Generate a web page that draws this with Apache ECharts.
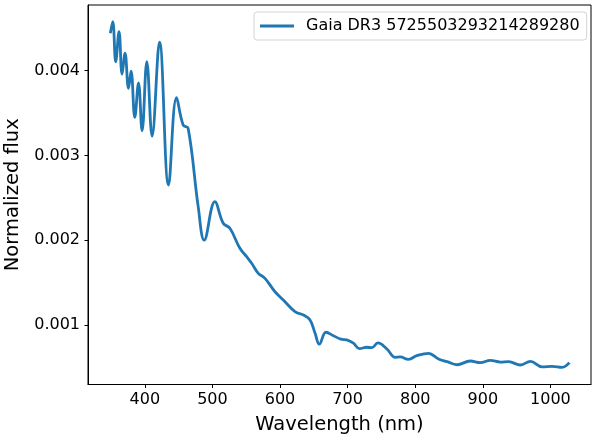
<!DOCTYPE html>
<html>
<head>
<meta charset="utf-8">
<script src="https://cdn.jsdelivr.net/npm/echarts@6/dist/echarts.min.js"></script>
<style>html,body{margin:0;padding:0;background:#fff}#c{width:592px;height:438px}</style>
</head>
<body>
<div id="c"></div>
<script>
const wavelength = [349, 352.6, 357, 361.9, 366.4, 370.8, 375.9, 379.7, 385.2, 390.7, 396, 403, 410.8, 421.8, 435.1, 447, 456.7, 464.1, 479, 487.9, 503.7, 516, 525.9, 540.7, 550.7, 558.1, 567.9, 577.8, 592.6, 604.9, 622.2, 634.5, 644.4, 651.9, 658.2, 668, 679, 690, 698.8, 708.6, 717.5, 728.4, 735.9, 744.7, 758.1, 770.4, 777.8, 790, 802.5, 819.7, 834.5, 847, 861.8, 881.5, 896.3, 911.1, 925.9, 938.2, 955.6, 970.4, 987.7, 1002.5, 1017.3, 1028];
const flux = [0.004443, 0.004579, 0.004106, 0.004462, 0.003960, 0.004206, 0.003791, 0.003996, 0.003450, 0.003857, 0.003292, 0.004106, 0.003229, 0.004336, 0.002652, 0.003682, 0.003360, 0.003322, 0.002397, 0.002003, 0.002456, 0.002201, 0.002142, 0.001906, 0.001807, 0.001729, 0.001611, 0.001552, 0.001394, 0.001297, 0.001159, 0.001120, 0.001061, 0.000903, 0.000775, 0.000916, 0.000876, 0.000834, 0.000826, 0.000787, 0.000723, 0.000739, 0.000734, 0.000790, 0.000719, 0.000621, 0.000625, 0.000597, 0.000640, 0.000668, 0.000601, 0.000569, 0.000533, 0.000577, 0.000557, 0.000585, 0.000565, 0.000569, 0.000530, 0.000573, 0.000509, 0.000514, 0.000502, 0.000557];
const xTicks = [400, 500, 600, 700, 800, 900, 1000];
const yTicks = [0.001, 0.002, 0.003, 0.004];
const seriesName = 'Gaia DR3 5725503293214289280';

const font = 'DejaVu Sans';
const chart = echarts.init(document.getElementById('c'), null, {renderer: 'canvas'});
chart.setOption({
  animation: false,
  backgroundColor: '#fff',
  grid: {left: 88, right: 1, top: 5, bottom: 53.5, containLabel: false, outerBoundsMode: 'none',
    show: true, borderColor: '#000', borderWidth: 1, backgroundColor: 'transparent'},
  legend: {
    show: true, left: 254, top: 12,
    data: [seriesName],
    icon: 'rect', itemWidth: 34, itemHeight: 2.8,
    padding: [6, 7, 6, 6],
    borderColor: '#d4d4d4', borderWidth: 1, borderRadius: 3,
    textStyle: {fontFamily: font, fontSize: 16, color: '#000', padding: [0, 0, 0, 7], lineHeight: 16}
  },
  xAxis: {
    type: 'value', min: 316, max: 1060,
    name: 'Wavelength (nm)', nameLocation: 'middle', nameGap: 30,
    nameTextStyle: {fontFamily: font, fontSize: 19.5, color: '#000'},
    axisLine: {show: true, onZero: false, lineStyle: {color: '#000', width: 1}},
    axisTick: {show: true, length: 3.5, lineStyle: {color: '#000'}, customValues: xTicks},
    axisLabel: {fontFamily: font, fontSize: 16, color: '#000', margin: 7, customValues: xTicks,
      formatter: v => String(v)},
    splitLine: {show: false}
  },
  yAxis: {
    type: 'value', min: 0.0003, max: 0.004775,
    name: 'Normalized flux', nameLocation: 'middle', nameGap: 56, nameRotate: 90,
    nameTextStyle: {fontFamily: font, fontSize: 19.5, color: '#000'},
    axisLine: {show: true, onZero: false, lineStyle: {color: '#000', width: 1}},
    axisTick: {show: true, length: 3.5, lineStyle: {color: '#000'}, customValues: yTicks},
    axisLabel: {fontFamily: font, fontSize: 16, color: '#000', margin: 8, customValues: yTicks,
      formatter: v => v.toFixed(3)},
    splitLine: {show: false}
  },
  series: [{
    name: seriesName, type: 'line',
    data: wavelength.map((w, i) => [w, flux[i]]),
    showSymbol: false, symbol: 'none', smooth: 0.4,
    lineStyle: {color: '#1f77b4', width: 2.8},
    itemStyle: {color: '#1f77b4'}
  }]
});
</script>
</body>
</html>
